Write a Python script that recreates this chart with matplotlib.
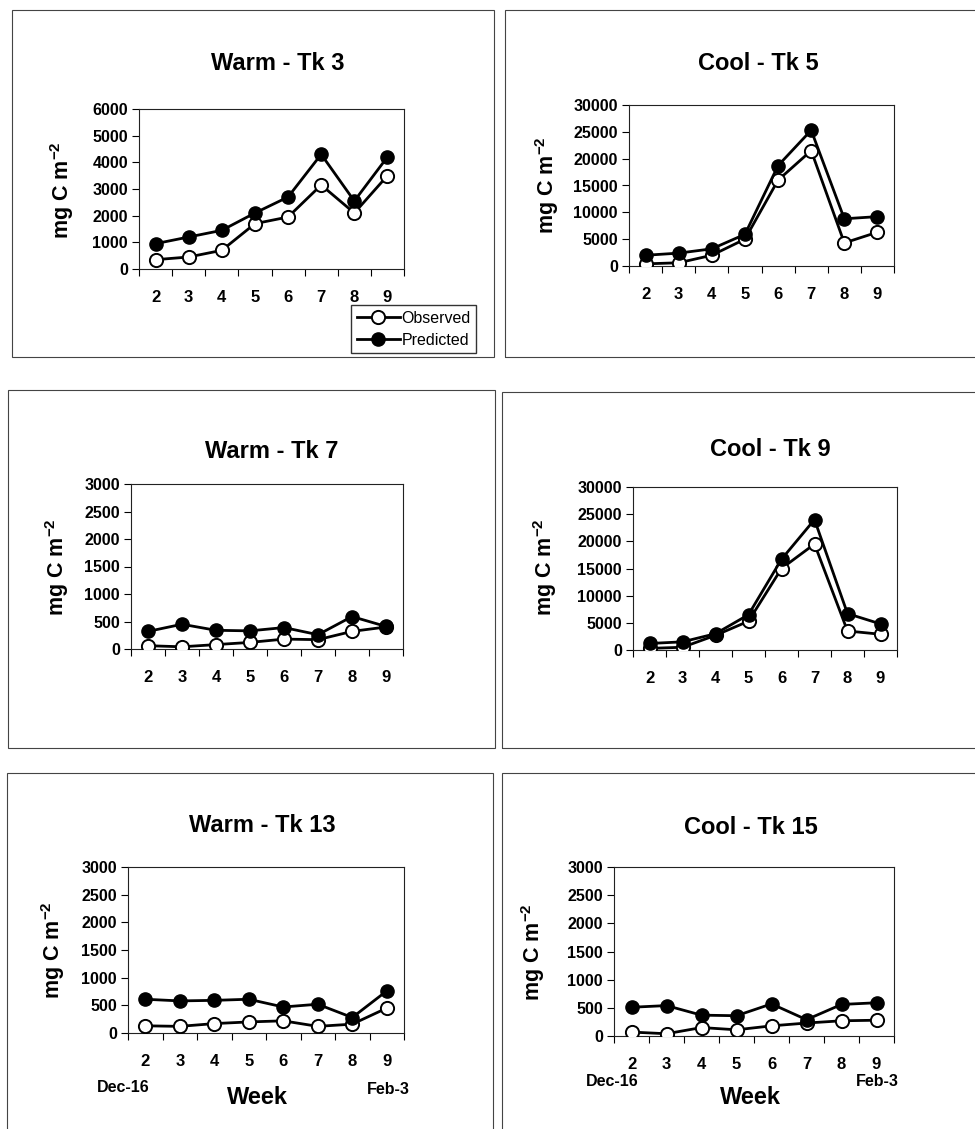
import matplotlib
matplotlib.use("Agg")
import matplotlib.pyplot as plt
from matplotlib.patches import Rectangle

plt.rcParams["font.family"] = ["Liberation Sans", "DejaVu Sans"]
plt.rcParams["mathtext.fontset"] = "custom"
plt.rcParams["mathtext.rm"] = "Liberation Sans"
plt.rcParams["mathtext.bf"] = "Liberation Sans:bold"

weeks = ["2", "3", "4", "5", "6", "7", "8", "9"]

titles = ["Warm - Tk 3", "Cool - Tk 5", "Warm - Tk 7",
          "Cool - Tk 9", "Warm - Tk 13", "Cool - Tk 15"]

obs_tk3 = [350, 450, 700, 1700, 1950, 3150, 2100, 3500]
pred_tk3 = [950, 1200, 1450, 2100, 2700, 4300, 2550, 4200]
obs_tk5 = [400, 600, 2000, 5000, 16000, 21500, 4300, 6300]
pred_tk5 = [2000, 2400, 3200, 5900, 18700, 25300, 8800, 9200]
obs_tk7 = [60, 40, 80, 120, 180, 170, 320, 400]
pred_tk7 = [320, 450, 340, 330, 390, 260, 590, 410]
obs_tk9 = [300, 500, 2700, 5300, 15000, 19500, 3500, 2900]
pred_tk9 = [1200, 1500, 3000, 6500, 16700, 24000, 6700, 4800]
obs_tk13 = [130, 120, 170, 200, 220, 120, 160, 450]
pred_tk13 = [610, 580, 590, 610, 470, 520, 280, 760]
obs_tk15 = [70, 40, 150, 110, 180, 230, 270, 280]
pred_tk15 = [510, 540, 370, 360, 570, 290, 560, 590]

observed = [obs_tk3, obs_tk5, obs_tk7, obs_tk9, obs_tk13, obs_tk15]
predicted = [pred_tk3, pred_tk5, pred_tk7, pred_tk9, pred_tk13, pred_tk15]
ymax = [6000, 30000, 3000, 30000, 3000, 3000]
ystep = [1000, 5000, 500, 5000, 500, 500]

W, H = 975, 1129
fig = plt.figure(figsize=(W / 100, H / 100), dpi=100)


def fx(px):
    return px / W


def fy(py):
    return 1 - py / H


# panel frames (x0, top, x1, bottom) in pixels
frames = [(12, 10, 494, 357), (505, 10, 977, 357),
          (8, 390, 495, 748), (502, 392, 977, 748),
          (7, 773, 493, 1132), (502, 773, 977, 1132)]
# plot areas (x0, top, x1, bottom)
areas = [(139, 109, 404, 269), (629, 105, 894, 266),
         (131, 484, 403, 649), (633, 487, 897, 650),
         (128, 867, 404, 1033), (614, 867, 894, 1036)]
title_xy = [(278, 63), (758, 63), (272, 452), (770, 450), (262, 826), (751, 828)]
ylab_xy = [(62, 190), (547, 185), (57, 567), (545, 567), (53, 950), (533, 952)]

for x0, t, x1, b in frames:
    fig.add_artist(Rectangle((fx(x0), fy(b)), fx(x1 - x0), (b - t) / H,
                             transform=fig.transFigure, fill=False,
                             edgecolor="#444444", linewidth=0.8))

x = list(range(1, 9))
for i in range(6):
    x0, t, x1, b = areas[i]
    ax = fig.add_axes([fx(x0), fy(b), fx(x1 - x0), (b - t) / H])
    ax.plot(x, observed[i], "-o", color="black", lw=2, ms=9.5,
            mfc="white", mec="black", mew=1.4, label="Observed", zorder=3)
    ax.plot(x, predicted[i], "-o", color="black", lw=2, ms=9.5,
            mfc="black", mec="black", label="Predicted", zorder=4)
    ax.set_xlim(0.5, 8.5)
    ax.set_ylim(0, ymax[i])
    ax.set_yticks(range(0, ymax[i] + 1, ystep[i]))
    # tick marks between categories, labels centred on them
    ax.set_xticks([k + 0.5 for k in range(0, 9)])
    ax.set_xticklabels([])
    ax.set_xticks(x, minor=True)
    ax.set_xticklabels(weeks, minor=True)
    ax.tick_params(axis="x", which="major", direction="out", length=5, width=0.8)
    ax.tick_params(axis="x", which="minor", length=0, pad=15, labelsize=12)
    ax.tick_params(axis="y", direction="out", length=5, width=0.8, labelsize=11.5, pad=3)
    for lab in ax.get_xticklabels(minor=True) + ax.get_yticklabels():
        lab.set_fontweight("bold")
    for sp in ax.spines.values():
        sp.set_linewidth(0.8)
        sp.set_color("#222222")

    tx, ty = title_xy[i]
    fig.text(fx(tx), fy(ty), titles[i], ha="center", va="center",
             fontsize=17, fontweight="bold")
    lx, ly = ylab_xy[i]
    fig.text(fx(lx), fy(ly), r"mg C m$^{\mathbf{-2}}$", ha="center", va="center",
             rotation=90, fontsize=15.5, fontweight="bold")

    if i == 0:
        ax.legend(loc="upper left", bbox_to_anchor=(fx(351), fy(305)),
                  bbox_transform=fig.transFigure, frameon=True, fancybox=False,
                  edgecolor="black", fontsize=11.5, handlelength=2.7,
                  handletextpad=0.1, borderpad=0.35, labelspacing=0.45,
                  borderaxespad=0)

# date and axis labels on the bottom row
fig.text(fx(123), fy(1088), "Dec-16", ha="center", va="center", fontsize=11.5, fontweight="bold")
fig.text(fx(388), fy(1089), "Feb-3", ha="center", va="center", fontsize=11.5, fontweight="bold")
fig.text(fx(257), fy(1097), "Week", ha="center", va="center", fontsize=17, fontweight="bold")
fig.text(fx(612), fy(1082), "Dec-16", ha="center", va="center", fontsize=11.5, fontweight="bold")
fig.text(fx(877), fy(1082), "Feb-3", ha="center", va="center", fontsize=11.5, fontweight="bold")
fig.text(fx(750), fy(1098), "Week", ha="center", va="center", fontsize=17, fontweight="bold")

fig.savefig("out.png", dpi=100)
